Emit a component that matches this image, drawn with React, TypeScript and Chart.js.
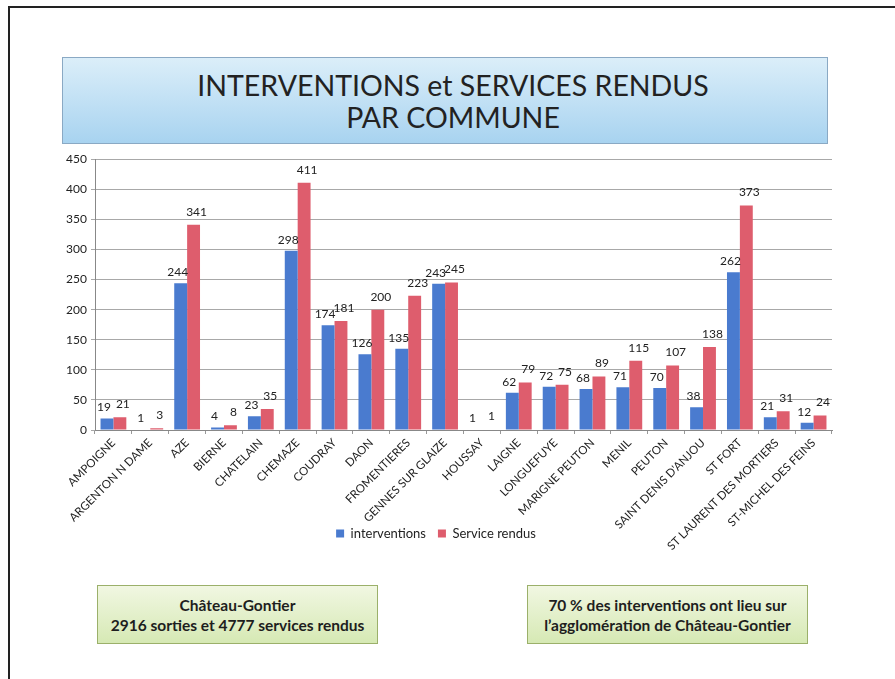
import React, { useEffect, useRef } from "react";
import { Chart, registerables } from "chart.js";

Chart.register(...registerables);

const communes = [
  "AMPOIGNE",
  "ARGENTON N DAME",
  "AZE",
  "BIERNE",
  "CHATELAIN",
  "CHEMAZE",
  "COUDRAY",
  "DAON",
  "FROMENTIERES",
  "GENNES SUR GLAIZE",
  "HOUSSAY",
  "LAIGNE",
  "LONGUEFUYE",
  "MARIGNE PEUTON",
  "MENIL",
  "PEUTON",
  "SAINT DENIS D'ANJOU",
  "ST FORT",
  "ST LAURENT DES MORTIERS",
  "ST-MICHEL DES FEINS",
];

const interventions = [19, 1, 244, 4, 23, 298, 174, 126, 135, 243, 1, 62, 72, 68, 71, 70, 38, 262, 21, 12];
const servicesRendus = [21, 3, 341, 8, 35, 411, 181, 200, 223, 245, 1, 79, 75, 89, 115, 107, 138, 373, 31, 24];

const seriesNames = ["interventions", "Service rendus"];
const yTicks = [0, 50, 100, 150, 200, 250, 300, 350, 400, 450];

const titleLines = ["INTERVENTIONS et SERVICES RENDUS", "PAR COMMUNE"];
const leftNote = ["Château-Gontier", "2916 sorties et 4777 services rendus"];
const rightNote = ["70 %  des interventions ont lieu sur", "l’agglomération de Château-Gontier"];

const FONT = "Lato, 'Open Sans', sans-serif";

const valueLabels = {
  id: "valueLabels",
  afterDatasetsDraw(chart: any) {
    const ctx = chart.ctx;
    ctx.save();
    ctx.font = `12px ${FONT}`;
    ctx.fillStyle = "#222";
    ctx.textAlign = "center";
    ctx.textBaseline = "bottom";
    chart.data.datasets.forEach((ds: any, di: number) => {
      const meta = chart.getDatasetMeta(di);
      const dx = di === 0 ? -3 : 3;
      const dy = di === 0 ? 5 : 7;
      meta.data.forEach((bar: any, i: number) => {
        ctx.fillText(String(ds.data[i]), bar.x + dx, bar.y - dy);
      });
    });
    ctx.restore();
  },
};

// place the legend right under the axis line area (labels overflow beside it, as in the original)
const legendPlacer = {
  id: "legendPlacer",
  afterLayout(chart: any) {
    const lg = chart.legend;
    if (!lg) return;
    const h = lg.bottom - lg.top;
    const top = chart.chartArea.bottom + 85;
    lg.top = top;
    lg.bottom = top + h;
  },
};

function ChartCanvas() {
  const ref = useRef<HTMLCanvasElement | null>(null);
  useEffect(() => {
    if (!ref.current) return;
    const chart = new Chart(ref.current, {
      type: "bar",
      data: {
        labels: communes,
        datasets: [
          {
            label: seriesNames[0],
            data: interventions,
            backgroundColor: "#4a7bcf",
            borderWidth: 0,
          },
          {
            label: seriesNames[1],
            data: servicesRendus,
            backgroundColor: "#de5d6d",
            borderWidth: 0,
          },
        ],
      },
      options: {
        responsive: false,
        animation: false,
        devicePixelRatio: 1,
        layout: { padding: { top: 10, right: 8, left: 0, bottom: 0 } },
        datasets: { bar: { categoryPercentage: 0.7, barPercentage: 1.0 } },
        plugins: {
          tooltip: { enabled: false },
          legend: {
            position: "bottom",
            labels: {
              boxWidth: 8,
              boxHeight: 8,
              padding: 12,
              color: "#222",
              font: { family: FONT, size: 13 },
            },
          },
        },
        scales: {
          x: {
            offset: true,
            grid: { display: true, drawOnChartArea: false, tickLength: 4, color: "#999", offset: true },
            border: { display: true, color: "#888" },
            ticks: {
              autoSkip: false,
              maxRotation: 45,
              minRotation: 45,
              color: "#222",
              padding: 2,
              font: { family: FONT, size: 11.5 },
            },
            afterFit: (s: any) => {
              s.height = 130;
            },
          },
          y: {
            min: 0,
            max: 450,
            afterBuildTicks: (s: any) => {
              s.ticks = yTicks.map((v) => ({ value: v }));
            },
            grid: { color: "#a8a8a8", tickLength: 4 },
            border: { display: true, color: "#888" },
            ticks: {
              color: "#222",
              font: { family: FONT, size: 12 },
              padding: 4,
            },
            afterFit: (s: any) => {
              s.width = 55;
            },
          },
        },
      },
      plugins: [valueLabels, legendPlacer],
    });
    return () => chart.destroy();
  }, []);
  return (
    <canvas
      ref={ref}
      width={800}
      height={447}
      style={{ position: "absolute", left: 40, top: 148, width: 800, height: 447 }}
    />
  );
}

export default function App() {
  useEffect(() => {
    document.body.style.margin = "0";
  }, []);
  const greenBox: React.CSSProperties = {
    position: "absolute",
    top: 585,
    height: 59,
    boxSizing: "border-box",
    border: "1px solid #9bb06a",
    background: "linear-gradient(to bottom, #f1f7e2, #d6e9b4)",
    display: "flex",
    flexDirection: "column",
    justifyContent: "center",
    alignItems: "center",
    fontFamily: FONT,
    fontWeight: 700,
    fontSize: 15.5,
    lineHeight: "20px",
    color: "#1e1e1e",
  };
  return (
    <div style={{ position: "absolute", left: 0, top: 0, width: 895, height: 679, background: "#fff", overflow: "hidden" }}>
      <div
        style={{
          position: "absolute",
          left: 8,
          top: 6,
          width: 895,
          height: 690,
          borderTop: "2px solid #222",
          borderLeft: "2px solid #222",
        }}
      />
      <div
        style={{
          position: "absolute",
          left: 62,
          top: 57,
          width: 766,
          height: 87,
          boxSizing: "border-box",
          paddingLeft: 16,
          border: "1px solid #8aa9c4",
          background: "linear-gradient(to bottom, #dbeef9, #a8d3f0)",
          display: "flex",
          flexDirection: "column",
          justifyContent: "center",
          alignItems: "center",
          fontFamily: FONT,
          fontSize: 28.5,
          lineHeight: "32px",
          color: "#222",
        }}
      >
        <div>{titleLines[0]}</div>
        <div>{titleLines[1]}</div>
      </div>
      <ChartCanvas />
      <div style={{ ...greenBox, left: 97, width: 281 }}>
        <div>{leftNote[0]}</div>
        <div>{leftNote[1]}</div>
      </div>
      <div style={{ ...greenBox, left: 527, width: 281 }}>
        <div>{rightNote[0]}</div>
        <div>{rightNote[1]}</div>
      </div>
    </div>
  );
}
